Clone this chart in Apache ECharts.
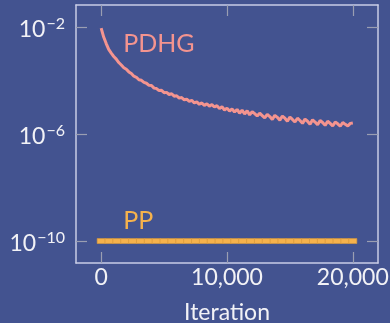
<!DOCTYPE html>
<html>
<head>
<meta charset="utf-8">
<script src="https://cdn.jsdelivr.net/npm/echarts@6/dist/echarts.min.js"></script>
<style>
html,body{margin:0;padding:0;background:#435390;}
#chart{width:390px;height:323px;}
</style>
</head>
<body>
<div id="chart"></div>
<script>
// ---- data ----
var pdhgIter = [0,200,400,600,800,1000,1200,1400,1600,1800,2000,2200,2400,2600,2800,3000,3200,3400,3600,3800,4000,4200,4400,4600,4800,5000,5200,5400,5600,5800,6000,6200,6400,6600,6800,7000,7200,7400,7600,7800,8000,8200,8400,8600,8800,9000,9200,9400,9600,9800,10000,10200,10400,10600,10800,11000,11200,11400,11600,11800,12000,12200,12400,12600,12800,13000,13200,13400,13600,13800,14000,14200,14400,14600,14800,15000,15200,15400,15600,15800,16000,16200,16400,16600,16800,17000,17200,17400,17600,17800,18000,18200,18400,18600,18800,19000,19200,19400,19600,19800,20000];
var pdhgValues = [9.1e-3,4.2e-3,2.4e-3,1.45e-3,1.05e-3,7.9e-4,6.3e-4,4.7e-4,3.8e-4,3.0e-4,2.63e-4,2.1e-4,1.82e-4,1.45e-4,1.32e-4,1.07e-4,1.02e-4,8.5e-5,7.9e-5,6.6e-5,6.5e-5,5.2e-5,5.0e-5,4.2e-5,4.3e-5,3.5e-5,3.6e-5,3.0e-5,3.2e-5,2.6e-5,2.7e-5,2.2e-5,2.3e-5,1.9e-5,2.0e-5,1.66e-5,1.82e-5,1.45e-5,1.58e-5,1.29e-5,1.45e-5,1.17e-5,1.35e-5,1.10e-5,1.26e-5,1.02e-5,1.15e-5,8.9e-6,1.05e-5,7.9e-6,9.3e-6,7.2e-6,8.7e-6,6.6e-6,8.3e-6,6.0e-6,7.8e-6,5.6e-6,7.4e-6,5.2e-6,6.9e-6,5.8e-6,4.7e-6,6.0e-6,4.9e-6,4.0e-6,5.4e-6,4.5e-6,3.5e-6,5.0e-6,4.2e-6,3.3e-6,4.7e-6,3.9e-6,3.0e-6,4.3e-6,3.5e-6,2.8e-6,3.9e-6,3.2e-6,2.5e-6,3.6e-6,3.0e-6,2.3e-6,3.4e-6,2.8e-6,2.2e-6,3.2e-6,2.7e-6,2.1e-6,3.0e-6,2.5e-6,2.0e-6,2.8e-6,2.4e-6,1.95e-6,2.7e-6,2.3e-6,2.0e-6,2.5e-6,2.6e-6];
var ppIter = [0,625,1250,1875,2500,3125,3750,4375,5000,5625,6250,6875,7500,8125,8750,9375,10000,10625,11250,11875,12500,13125,13750,14375,15000,15625,16250,16875,17500,18125,18750,19375,20000];
var ppValues = [1e-10,1e-10,1e-10,1e-10,1e-10,1e-10,1e-10,1e-10,1e-10,1e-10,1e-10,1e-10,1e-10,1e-10,1e-10,1e-10,1e-10,1e-10,1e-10,1e-10,1e-10,1e-10,1e-10,1e-10,1e-10,1e-10,1e-10,1e-10,1e-10,1e-10,1e-10,1e-10,1e-10];
var xTickValues = [0, 10000, 20000];
var xTickLabels = ['0', '10,000', '20,000'];
var yTickValues = [1e-10, 1e-6, 1e-2];
var yTickExponents = ['\u221210', '\u22126', '\u22122'];
var xName = 'Iteration';
var seriesNames = ['PDHG', 'PP'];
var labelPos = { PDHG: [1746, 2.4e-3], PP: [1746, 5.75e-10] };

// ---- style ----
var BG = '#435390', PINK = '#f4948f', ORANGE = '#f6b24c', TXT = '#f2f2f6';
var TICK = '#9a9eb2', BORDER = '#c9cde6', FONT = 'Lato';

function zip(a, b) { return a.map(function (v, i) { return [v, b[i]]; }); }

function tickOpt(vals) {
  return { show: true, inside: true, length: 11, customValues: vals, lineStyle: { color: TICK, width: 1.2 } };
}
function lineOpt() {
  return { show: true, onZero: false, lineStyle: { color: BORDER, width: 1.5 } };
}

var option = {
  backgroundColor: BG,
  animation: false,
  grid: { left: 76, right: 12, top: 5, bottom: 60, outerBoundsMode: 'none', show: false },
  xAxis: [
    {
      type: 'value', min: -2000, max: 22000, position: 'bottom',
      axisLine: lineOpt(), splitLine: { show: false },
      axisTick: tickOpt(xTickValues),
      axisLabel: {
        customValues: xTickValues, color: TXT, fontSize: 23, fontFamily: FONT, margin: 3,
        formatter: function (v) { return xTickLabels[xTickValues.indexOf(v)]; }
      },
      name: xName, nameLocation: 'middle', nameGap: 38,
      nameTextStyle: { color: TXT, fontSize: 23, fontFamily: FONT }
    },
    {
      type: 'value', min: -2000, max: 22000, position: 'top',
      axisLine: lineOpt(), splitLine: { show: false },
      axisTick: tickOpt(xTickValues),
      axisLabel: { show: false }
    }
  ],
  yAxis: [
    {
      type: 'log', logBase: 10, min: 1.51e-11, max: 0.0664, position: 'left',
      axisLine: lineOpt(), splitLine: { show: false }, minorTick: { show: false },
      axisTick: tickOpt(yTickValues),
      axisLabel: {
        customValues: yTickValues, margin: 11, padding: [5, 0, 0, 0],
        formatter: function (v) {
          var i = -1;
          for (var k = 0; k < yTickValues.length; k++) { if (Math.abs(Math.log10(v) - Math.log10(yTickValues[k])) < 1e-6) i = k; }
          return '{b|10}{s|' + yTickExponents[i] + '}';
        },
        rich: {
          b: { color: TXT, fontSize: 23, fontFamily: FONT, lineHeight: 28 },
          s: { color: TXT, fontSize: 16, fontFamily: FONT, lineHeight: 15, verticalAlign: 'top', padding: [0, 0, 0, 1] }
        }
      }
    },
    {
      type: 'log', logBase: 10, min: 1.51e-11, max: 0.0664, position: 'right',
      axisLine: lineOpt(), splitLine: { show: false }, minorTick: { show: false },
      axisTick: tickOpt(yTickValues),
      axisLabel: { show: false }
    }
  ],
  series: [
    {
      name: seriesNames[0], type: 'line', xAxisIndex: 0, yAxisIndex: 0,
      data: zip(pdhgIter, pdhgValues), showSymbol: false, symbol: 'none',
      lineStyle: { color: PINK, width: 3 }, z: 3,
      markPoint: {
        symbol: 'circle', symbolSize: 0, silent: true,
        data: [{ coord: labelPos.PDHG }],
        label: { show: true, position: 'right', distance: 0, formatter: seriesNames[0], color: PINK, fontSize: 25, fontFamily: FONT }
      }
    },
    {
      name: seriesNames[1], type: 'line', xAxisIndex: 0, yAxisIndex: 0,
      data: zip(ppIter, ppValues), showSymbol: true, symbol: 'rect', symbolSize: [8, 5],
      itemStyle: { color: ORANGE, borderColor: '#d99a3c', borderWidth: 0.6 },
      lineStyle: { color: ORANGE, width: 4 }, z: 3,
      markPoint: {
        symbol: 'circle', symbolSize: 0, silent: true,
        data: [{ coord: labelPos.PP }],
        label: { show: true, position: 'right', distance: 0, formatter: seriesNames[1], color: ORANGE, fontSize: 25, fontFamily: FONT }
      }
    }
  ]
};

var chart = echarts.init(document.getElementById('chart'), null, { renderer: 'canvas' });
chart.setOption(option);
</script>
</body>
</html>
